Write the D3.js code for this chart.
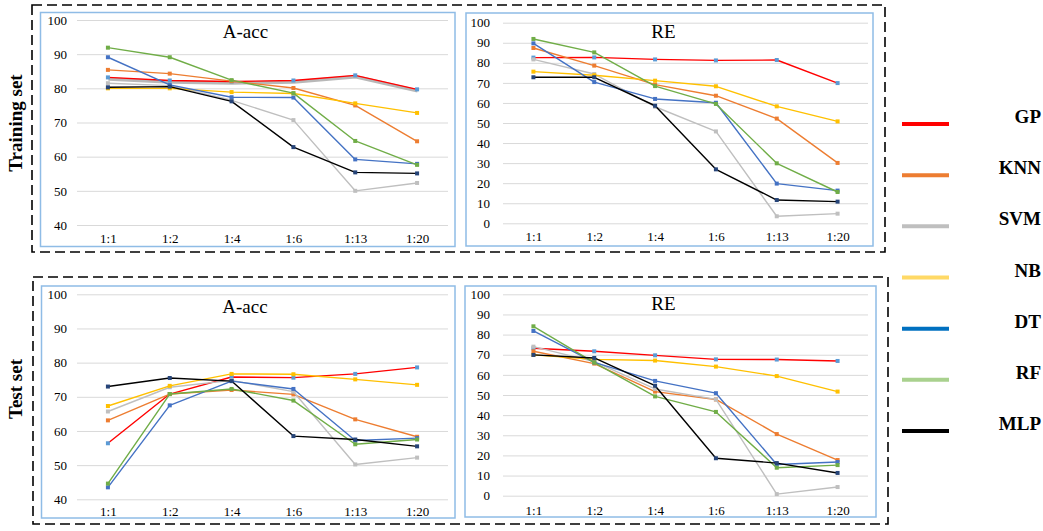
<!DOCTYPE html>
<html>
<head>
<meta charset="utf-8">
<script src="https://cdn.jsdelivr.net/npm/d3@7"></script>
<style>
  html, body { margin: 0; padding: 0; background: #fff; }
  svg { display: block; }
  text { font-family: "Liberation Serif", "Times New Roman", serif; }
</style>
</head>
<body>
<svg id="chart" width="1043" height="531"></svg>
<script>
// Imbalance ratios on the x axis
const categories = ["1:1", "1:2", "1:4", "1:6", "1:13", "1:20"];
const seriesNames = ["GP", "KNN", "SVM", "NB", "DT", "RF", "MLP"];

// Line colours, marker colours and legend swatch colours, one per classifier
const lineColors   = ["#FF0000", "#ED7D31", "#BFBFBF", "#FFC000", "#4472C4", "#70AD47", "#000000"];
const markerColors = ["#5B9BD5", "#ED7D31", "#BFBFBF", "#FFC000", "#4472C4", "#70AD47", "#264478"];
const legendColors = ["#FF0000", "#ED7D31", "#BFBFBF", "#FFD966", "#0070C0", "#A9D18E", "#000000"];

// Training set, A-acc (rows follow seriesNames)
const trainAcc = [
  [83.2, 82.3, 82.0, 82.3, 83.8, 79.7],
  [85.4, 84.3, 82.1, 80.1, 75.0, 64.5],
  [81.5, 80.8, 76.5, 70.7, 50.0, 52.3],
  [80.0, 80.0, 78.9, 78.5, 75.6, 72.8],
  [89.1, 81.0, 77.4, 77.3, 59.2, 57.9],
  [91.9, 89.1, 82.4, 78.6, 64.6, 57.6],
  [80.3, 80.5, 76.2, 62.8, 55.4, 55.1]
];

// Training set, RE
const trainRE = [
  [82.6, 82.7, 81.7, 81.2, 81.4, 69.9],
  [87.4, 78.6, 69.1, 63.6, 52.2, 30.1],
  [81.7, 74.4, 58.1, 45.8, 3.5, 4.8],
  [75.6, 73.8, 71.1, 68.3, 58.3, 50.8],
  [89.7, 70.4, 62.0, 60.1, 19.8, 16.3],
  [91.9, 85.2, 68.4, 59.5, 29.9, 15.6],
  [72.8, 72.8, 58.6, 26.9, 11.6, 10.8]
];

// Test set, A-acc
const testAcc = [
  [56.4, 70.8, 75.8, 75.6, 76.7, 78.6],
  [63.1, 70.8, 72.0, 70.7, 63.4, 58.3],
  [65.7, 72.8, 74.8, 71.5, 50.2, 52.2],
  [67.3, 73.2, 76.7, 76.6, 75.1, 73.5],
  [43.5, 67.5, 74.6, 72.3, 57.2, 57.9],
  [44.6, 70.8, 72.3, 68.9, 56.1, 57.5],
  [73.0, 75.5, 74.6, 58.5, 57.5, 55.5]
];

// Test set, RE
const testRE = [
  [73.2, 71.7, 69.7, 67.7, 67.6, 66.9],
  [71.7, 65.6, 51.7, 47.8, 30.6, 17.7],
  [74.0, 66.6, 53.0, 47.8, 0.8, 4.3],
  [69.9, 67.7, 67.1, 64.1, 59.4, 51.7],
  [81.8, 66.2, 57.0, 50.9, 15.5, 16.7],
  [84.1, 66.1, 49.3, 41.6, 13.9, 15.2],
  [69.9, 68.4, 54.6, 18.6, 16.2, 11.3]
];

const accTicks = [40, 50, 60, 70, 80, 90, 100];
const reTicks = [0, 10, 20, 30, 40, 50, 60, 70, 80, 90, 100];

const svg = d3.select("#chart");
svg.append("rect").attr("width", 1043).attr("height", 531).attr("fill", "#fff");

// Dashed group boxes for the training and test rows
const groups = [
  { x0: 32, y0: 5, x1: 885, y1: 252 },
  { x0: 33, y0: 277, x1: 888, y1: 524 }
];
groups.forEach(g => {
  svg.append("rect")
    .attr("x", g.x0).attr("y", g.y0)
    .attr("width", g.x1 - g.x0).attr("height", g.y1 - g.y0)
    .attr("fill", "none").attr("stroke", "#000")
    .attr("stroke-width", 1.6).attr("stroke-dasharray", "10,5");
});

// Row labels
[{ text: "Training set", cx: 18, cy: 123 }, { text: "Test set", cx: 18, cy: 389 }].forEach(r => {
  svg.append("text")
    .attr("transform", `translate(${r.cx + 4},${r.cy}) rotate(-90)`)
    .attr("text-anchor", "middle")
    .attr("font-size", 19).attr("font-weight", "bold")
    .attr("fill", "#000")
    .text(r.text);
});

const panels = [
  { title: "A-acc", data: trainAcc, ticks: accTicks, domain: [40, 100],
    box: [40.5, 12.5, 455, 246.5], gx: [77, 448], gy: [225, 20], pad: 10,
    labelY: 238.3, titleX: 245.5, titleY: 38, shadow: true },
  { title: "RE", data: trainRE, ticks: reTicks, domain: [0, 100],
    box: [466, 13, 873, 246], gx: [503, 868], gy: [223.3, 22.7], pad: 13,
    labelY: 236.7, titleX: 663.5, titleY: 38, shadow: false },
  { title: "A-acc", data: testAcc, ticks: accTicks, domain: [40, 100],
    box: [41.5, 286, 455, 518], gx: [77, 448], gy: [499.3, 294.3], pad: 10,
    labelY: 511.7, titleX: 245, titleY: 313, shadow: false },
  { title: "RE", data: testRE, ticks: reTicks, domain: [0, 100],
    box: [465, 286, 876, 517], gx: [503, 868], gy: [495.7, 294.3], pad: 13,
    labelY: 510, titleX: 663.5, titleY: 310, shadow: false }
];

panels.forEach(p => {
  const g = svg.append("g");

  g.append("rect")
    .attr("x", p.box[0]).attr("y", p.box[1])
    .attr("width", p.box[2] - p.box[0]).attr("height", p.box[3] - p.box[1])
    .attr("fill", "#fff").attr("stroke", "#8FBCE6").attr("stroke-width", 1.5);

  const x = d3.scalePoint().domain(categories).range(p.gx).padding(0.5);
  const y = d3.scaleLinear().domain(p.domain).range(p.gy);

  // Value axis with horizontal gridlines
  const yAxis = g.append("g")
    .attr("transform", `translate(${p.gx[0]},0)`)
    .call(d3.axisLeft(y).tickValues(p.ticks).tickSize(-(p.gx[1] - p.gx[0])).tickPadding(p.pad));
  yAxis.select(".domain").remove();
  yAxis.selectAll(".tick line").attr("stroke", "#D9D9D9").attr("stroke-width", 1);
  yAxis.selectAll(".tick text")
    .attr("font-family", '"Liberation Serif", "Times New Roman", serif')
    .attr("font-size", 13).attr("fill", "#000");

  // Category axis
  const xAxis = g.append("g")
    .attr("transform", `translate(0,${p.labelY - 7.7})`)
    .call(d3.axisBottom(x).tickSize(0).tickPadding(3));
  xAxis.select(".domain").remove();
  xAxis.selectAll(".tick text")
    .attr("font-family", '"Liberation Serif", "Times New Roman", serif')
    .attr("font-size", 13).attr("fill", "#000");

  g.append("text")
    .attr("x", p.titleX).attr("y", p.titleY)
    .attr("text-anchor", "middle").attr("font-size", 19).attr("fill", "#000")
    .text(p.title);

  const line = d3.line()
    .x((d, i) => x(categories[i]))
    .y(d => y(d));

  p.data.forEach((vals, si) => {
    if (p.shadow && si === 0) {
      g.append("path")
        .attr("d", line(vals))
        .attr("transform", "translate(0.5,1.5)")
        .attr("fill", "none").attr("stroke", "#A6A6A6")
        .attr("stroke-width", 3.5).attr("opacity", 0.8);
    }
    g.append("path")
      .attr("d", line(vals))
      .attr("fill", "none")
      .attr("stroke", lineColors[si])
      .attr("stroke-width", 1.4)
      .attr("stroke-linejoin", "round");
    g.selectAll(null)
      .data(vals)
      .enter().append("rect")
      .attr("x", (d, i) => x(categories[i]) - 2)
      .attr("y", d => y(d) - 2)
      .attr("width", 4).attr("height", 4)
      .attr("fill", markerColors[si]);
  });
});

// Legend
const legendY = d3.scalePoint().domain(seriesNames).range([124, 431]);
const legend = svg.append("g");
seriesNames.forEach((name, i) => {
  const ly = legendY(name);
  legend.append("line")
    .attr("x1", 902).attr("x2", 949)
    .attr("y1", ly).attr("y2", ly)
    .attr("stroke", legendColors[i]).attr("stroke-width", 4);
  legend.append("text")
    .attr("x", 1041).attr("y", ly - 1)
    .attr("text-anchor", "end")
    .attr("font-size", 19).attr("font-weight", "bold").attr("fill", "#000")
    .text(name);
});
</script>
</body>
</html>
